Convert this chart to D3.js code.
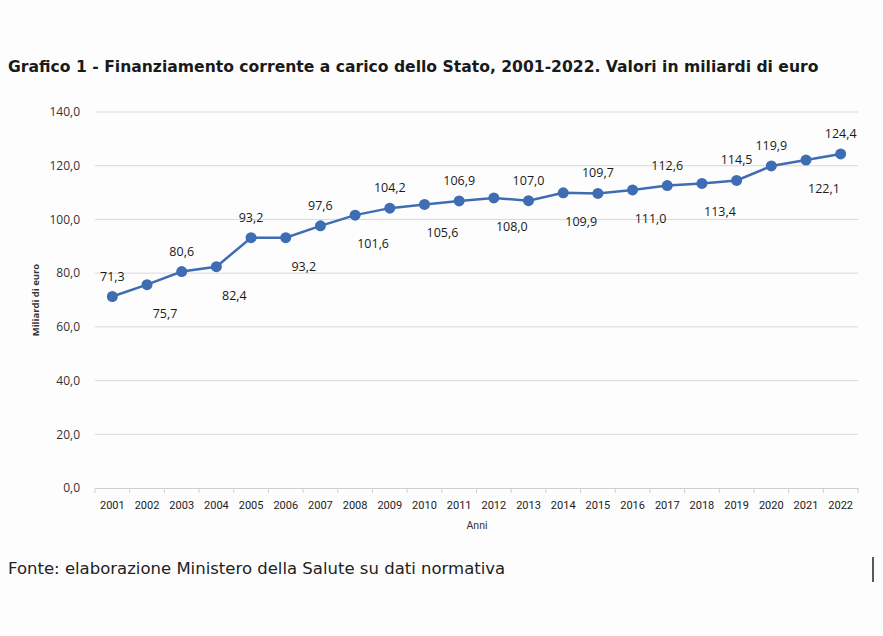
<!DOCTYPE html>
<html>
<head>
<meta charset="utf-8">
<script src="https://cdn.jsdelivr.net/npm/d3@7"></script>
<style>
  body { margin: 0; background: #fdfdfd; }
  svg { display: block; }
</style>
</head>
<body>
<svg id="chart" width="883" height="636"></svg>
<script>
// Data
var years = ["2001", "2002", "2003", "2004", "2005", "2006", "2007", "2008", "2009", "2010", "2011",
  "2012", "2013", "2014", "2015", "2016", "2017", "2018", "2019", "2020", "2021", "2022"];
var values = [71.3, 75.7, 80.6, 82.4, 93.2, 93.2, 97.6, 101.6, 104.2, 105.6, 106.9,
  108.0, 107.0, 109.9, 109.7, 111.0, 112.6, 113.4, 114.5, 119.9, 122.1, 124.4];
var labelSide = ["above", "below", "above", "below", "above", "below", "above", "below", "above", "below", "above",
  "below", "above", "below", "above", "below", "above", "below", "above", "above", "below", "above"];
var yTicks = [0, 20, 40, 60, 80, 100, 120, 140];

var fmt = function (v) { return v.toFixed(1).replace(".", ","); };

var svg = d3.select("#chart");
var lineColor = "#3f6db4";
var textFont = "'Open Sans', 'DejaVu Sans', sans-serif";

// title
svg.append("text")
  .attr("x", 8)
  .attr("y", 72)
  .attr("font-family", "'DejaVu Sans', sans-serif")
  .attr("font-weight", "bold")
  .attr("font-size", 15.6)
  .attr("fill", "#1a1a1a")
  .text("Grafico 1 - Finanziamento corrente a carico dello Stato, 2001-2022. Valori in miliardi di euro");

// scales
var x = d3.scaleBand().domain(years).range([95, 858]);
var y = d3.scaleLinear().domain([0, 140]).range([488, 112]);

// gridlines
svg.append("g")
  .selectAll("line")
  .data(yTicks.filter(function (d) { return d > 0; }))
  .enter()
  .append("line")
  .attr("x1", 95)
  .attr("x2", 858)
  .attr("y1", function (d) { return y(d); })
  .attr("y2", function (d) { return y(d); })
  .attr("stroke", "#d9d9d9")
  .attr("stroke-width", 1);

// y axis labels
var yAxis = svg.append("g")
  .attr("transform", "translate(95,0)")
  .call(d3.axisLeft(y).tickValues(yTicks).tickSize(0).tickPadding(15).tickFormat(fmt));
yAxis.select(".domain").remove();
yAxis.selectAll("text")
  .attr("font-family", textFont)
  .attr("font-size", 12)
  .attr("fill", "#333");

// x axis
var xAxis = svg.append("g")
  .attr("transform", "translate(0,488)")
  .call(d3.axisBottom(x).tickSize(0).tickPadding(13));
xAxis.select(".domain").attr("stroke", "#cfcfcf");
xAxis.selectAll("text")
  .attr("font-family", "'Liberation Sans Narrow', 'Roboto', sans-serif")
  .attr("font-size", 11)
  .attr("fill", "#222");

// category boundary ticks
var bounds = years.map(function (d) { return x(d); }).concat([x.range()[1]]);
xAxis.selectAll(".bt")
  .data(bounds)
  .enter()
  .append("line")
  .attr("class", "bt")
  .attr("x1", function (d) { return d; })
  .attr("x2", function (d) { return d; })
  .attr("y1", 0)
  .attr("y2", 5)
  .attr("stroke", "#cfcfcf");

// axis titles
svg.append("text")
  .attr("transform", "translate(39,300) rotate(-90)")
  .attr("text-anchor", "middle")
  .attr("font-family", textFont)
  .attr("font-size", 9.5)
  .attr("font-weight", "bold")
  .attr("fill", "#333")
  .text("Miliardi di euro");

svg.append("text")
  .attr("x", 477)
  .attr("y", 529)
  .attr("text-anchor", "middle")
  .attr("font-family", "'Liberation Sans Narrow', 'Roboto', sans-serif")
  .attr("font-size", 10.5)
  .attr("fill", "#333")
  .text("Anni");

// line
var cx = function (d, i) { return x(years[i]) + x.bandwidth() / 2; };
var line = d3.line()
  .x(function (d, i) { return cx(d, i); })
  .y(function (d) { return y(d); });

svg.append("path")
  .datum(values)
  .attr("d", line)
  .attr("fill", "none")
  .attr("stroke", lineColor)
  .attr("stroke-width", 2.5);

svg.append("g")
  .selectAll("circle")
  .data(values)
  .enter()
  .append("circle")
  .attr("cx", cx)
  .attr("cy", function (d) { return y(d); })
  .attr("r", 5.5)
  .attr("fill", lineColor);

// data labels
svg.append("g")
  .selectAll("text")
  .data(values)
  .enter()
  .append("text")
  .attr("x", function (d, i) { return cx(d, i) + (labelSide[i] === "below" ? 18 : 0); })
  .attr("y", function (d, i) { return y(d) + (labelSide[i] === "below" ? 33 : -16); })
  .attr("text-anchor", "middle")
  .attr("font-family", textFont)
  .attr("font-size", 12.5)
  .attr("fill", "#1a1a1a")
  .text(fmt);

// source note
svg.append("text")
  .attr("x", 8)
  .attr("y", 574)
  .attr("font-family", "'DejaVu Sans', sans-serif")
  .attr("font-size", 16.5)
  .attr("fill", "#222")
  .text("Fonte: elaborazione Ministero della Salute su dati normativa");

svg.append("line")
  .attr("x1", 873).attr("x2", 873)
  .attr("y1", 557).attr("y2", 582)
  .attr("stroke", "#222")
  .attr("stroke-width", 1.5);
</script>
</body>
</html>
